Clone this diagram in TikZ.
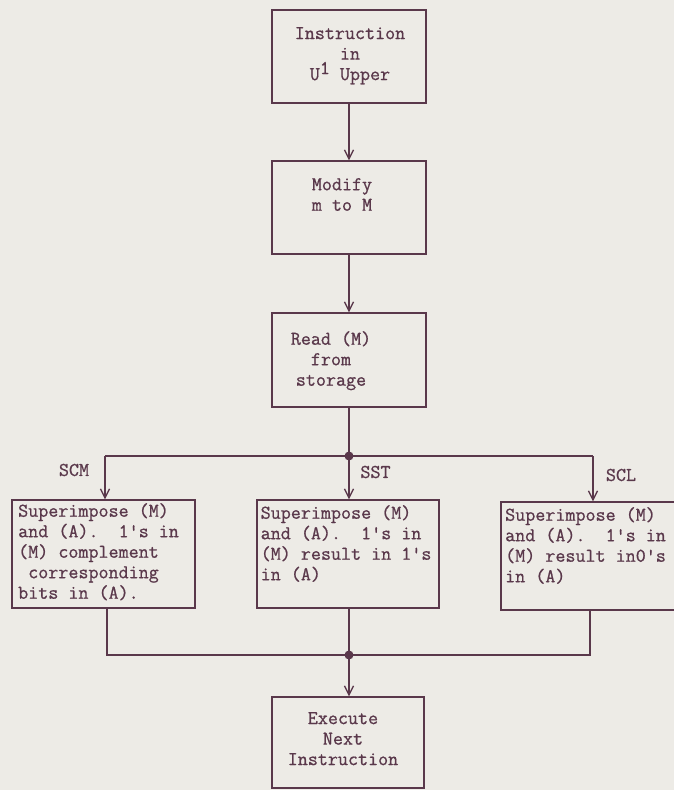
\documentclass[tikz,border=0pt]{standalone}
\usepackage{fontspec}
\newfontfamily\tw[FakeBold=0.8]{Latin Modern Mono}
\usetikzlibrary{arrows.meta}
\definecolor{ink}{HTML}{5A384B}
\definecolor{paper}{HTML}{EDEBE6}
\tikzset{
  box/.style={draw=ink, line width=1.4pt, rectangle, inner sep=0pt},
  txt/.style={text=ink, inner sep=0pt, font=\tw\fontsize{19.5}{20.5}\selectfont},
  wire/.style={draw=ink, line width=1.4pt},
  arr/.style={wire, -{Straight Barb[length=9pt,width=9pt,line width=1.3pt]}},
  dot/.style={circle, fill=ink, inner sep=0pt, minimum size=9pt},
}
\begin{document}
\begin{tikzpicture}[x=1pt,y=-1pt]
\fill[paper] (0,0) rectangle (674,790);
\useasboundingbox (0,0) rectangle (674,790);
\clip (0,0) rectangle (674,790);
% boxes
\node[box, minimum width=154pt, minimum height=93pt] (b1) at (349,56.5) {};
\node[box, minimum width=154pt, minimum height=93pt] (b2) at (349,207.5) {};
\node[box, minimum width=154pt, minimum height=94pt] (b3) at (349,360) {};
\node[box, minimum width=183pt, minimum height=108pt] (bl) at (103.5,554) {};
\node[box, minimum width=182pt, minimum height=108pt] (bm) at (348,554) {};
\node[box, minimum width=184pt, minimum height=108pt] (br) at (593,556) {};
\node[box, minimum width=152pt, minimum height=91pt] (be) at (348,742.5) {};
% texts
\node[txt, align=center, anchor=north] (t1) at (350,27) {Instruction\\in\\U\raisebox{6pt}{1} Upper};
\node[txt, align=center, anchor=north] (t2) at (342,178) {Modify\\m to M};
\node[txt, align=center, anchor=north] (t3) at (331,331) {Read (M)\\from\\storage};
\node[txt, align=left, anchor=north west] (tl) at (18,503) {Superimpose (M)\\and (A).\ \ 1's in\\(M) complement\\\ corresponding\\bits in (A).};
\node[txt, align=left, anchor=north west] (tm) at (260.5,505) {Superimpose (M)\\and (A).\ \ 1's in\\(M) result in 1's\\in (A)};
\node[txt, align=left, anchor=north west] (tr) at (505,507) {Superimpose (M)\\and (A).\ \ 1's in\\(M) result in0's\\in (A)};
\node[txt, align=center, anchor=north] (te) at (343,712) {Execute\\Next\\Instruction};
% labels
\node[txt] (lscm) at (74,470) {SCM};
\node[txt] (lsst) at (375.5,472) {SST};
\node[txt] (lscl) at (621,475) {SCL};
% junctions
\coordinate (j1) at (349,456);
\coordinate (j2) at (349,655);
\coordinate (cL) at (105,456);
\coordinate (cR) at (593,456);
\coordinate (cLb) at (107,655);
\coordinate (cRb) at (590,655);
% connectors
\draw[arr] (b1) -- (b2);
\draw[arr] (b2) -- (b3);
\draw[wire] (b3.south) -- (j1);
\draw[wire] (cL) -- (cR);
\draw[arr] (cL) -- (cL |- bl.north);
\draw[arr] (j1) -- (j1 |- bm.north);
\draw[arr] (cR) -- (cR |- br.north);
\draw[wire] (cLb |- bl.south) -- (cLb) -- (cRb) -- (cRb |- br.south);
\draw[wire] (j2 |- bm.south) -- (j2);
\draw[arr] (j2) -- (j2 |- be.north);
\node[dot] (d1) at (j1) {};
\node[dot] (d2) at (j2) {};
\end{tikzpicture}
\end{document}
